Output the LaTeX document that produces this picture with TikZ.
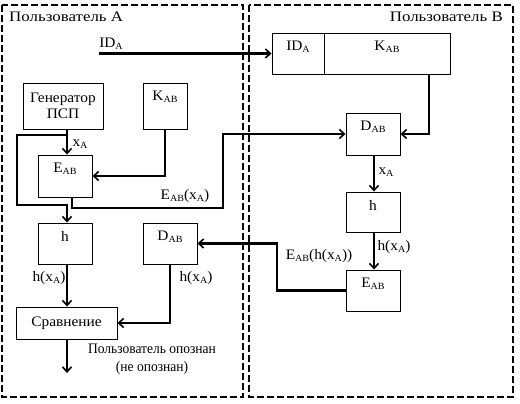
\documentclass[tikz,border=0pt]{standalone}
\usepackage{fontspec}
\setmainfont[FakeStretch=1.06]{Liberation Serif}
\usetikzlibrary{arrows.meta,calc}
\newcommand\sbs[1]{\raisebox{-0.3ex}{\fontsize{9.5}{9.5}\selectfont #1}}
\newcommand\wide[1]{\scalebox{1.1}[1]{#1}}
\newcommand\narrow[1]{\scalebox{0.88}[1]{#1}}
\tikzset{
  frame/.style={line width=2pt, dash pattern=on 7pt off 3pt},
  blk/.style={draw, line width=0.9pt, inner sep=0pt, rectangle},
  top/.style={label={[anchor=center,yshift=-14pt]north:{#1}}},
  arr/.style={line width=2.6pt, -{Straight Barb[length=5pt,width=9pt,line width=1.6pt]}},
  wire/.style={line width=2.6pt},
  txt/.style={inner sep=0pt, align=center}
}
\begin{document}
\begin{tikzpicture}[x=1pt,y=-1pt, every node/.style={font=\fontsize{14.5}{16}\selectfont}]
\useasboundingbox (0,0) rectangle (520,404);
% frames
\draw[frame] (2,5) rectangle (243,397);
\draw[frame] (249,5) rectangle (513,397);
\node[txt, anchor=west] (ua) at (9,17) {\wide{Пользователь A}};
\node[txt, anchor=east] (ub) at (503,17) {\wide{Пользователь B}};
% blocks left
\node[blk, minimum width=80, minimum height=46, align=center] (gen) at (63,106) {Генератор\\ПСП};
\node[blk, minimum width=44, minimum height=46, top={K\sbs{AB}}] (kab1) at (165,106) {};
\node[blk, minimum width=54, minimum height=42, top={E\sbs{AB}}] (eab1) at (65,176) {};
\node[blk, minimum width=54, minimum height=41, top={h}] (h1) at (65,243.5) {};
\node[blk, minimum width=54, minimum height=41, top={D\sbs{AB}}] (dab1) at (170,243.5) {};
\node[blk, minimum width=101, minimum height=32] (cmp) at (66.5,323) {Сравнение};
% blocks right
\node[blk, minimum width=52, minimum height=41, top={ID\sbs{A}}] (recid) at (298,53.5) {};
\node[blk, minimum width=126, minimum height=41, top={K\sbs{AB}}] (reckab) at (387,53.5) {};
\node[blk, minimum width=54, minimum height=42, top={D\sbs{AB}}] (dab2) at (373,134) {};
\node[blk, minimum width=54, minimum height=40, top={h}] (h2) at (373,212) {};
\node[blk, minimum width=54, minimum height=41, top={E\sbs{AB}}] (eab2) at (373,290.5) {};
% coordinates
\coordinate (colA) at (67,0);
\coordinate (ids) at (99,53.5);
\coordinate (j1) at (67,135);
\coordinate (out) at (67,373);
% connectors
\node[txt] (lid) at (111,44) {ID\sbs{A}};
\draw[arr] (ids) -- (recid.west);
\draw[arr] (gen.south -| colA) -- (eab1.north -| colA);
\node[txt] (lxa1) at (80,144) {x\sbs{A}};
\draw[wire] (j1) -- (17,135) -- (17,205) -| ($(h1.north -| colA)+(0,-2)$);
\draw[arr] (67,205) -- (h1.north -| colA);
\draw[arr] (kab1.south) |- (eab1.east);
\draw[arr] (eab1.south -| 72,0) -- (72,208) -- (223,208) |- (dab2.west);
\node[txt] (lex) at (185,196) {E\sbs{AB}(x\sbs{A})};
\draw[arr] (reckab.south -| 429,0) |- (dab2.east);
\draw[arr] (dab2.south -| 374,0) -- (h2.north -| 374,0);
\node[txt] (lxa2) at (386,172) {x\sbs{A}};
\draw[arr] (h2.south -| 374,0) -- (eab2.north -| 374,0);
\node[txt] (lhx3) at (394,247) {h(x\sbs{A})};
\draw[arr] (eab2.west) -- (277,290.5) |- (dab1.east);
\node[txt] (lehx) at (319,256) {E\sbs{AB}(h(x\sbs{A}))};
\draw[arr] (h1.south -| colA) -- (cmp.north -| colA);
\node[txt] (lhx1) at (49,278) {h(x\sbs{A})};
\draw[arr] (dab1.south) |- (cmp.east);
\node[txt] (lhx2) at (196,278) {h(x\sbs{A})};
\draw[arr] (cmp.south -| colA) -- (out);
\node[txt, font=\fontsize{14.5}{18}\selectfont] (res) at (152,359) {\narrow{Пользователь опознан}\\\narrow{(не опознан)}};
\end{tikzpicture}
\end{document}
